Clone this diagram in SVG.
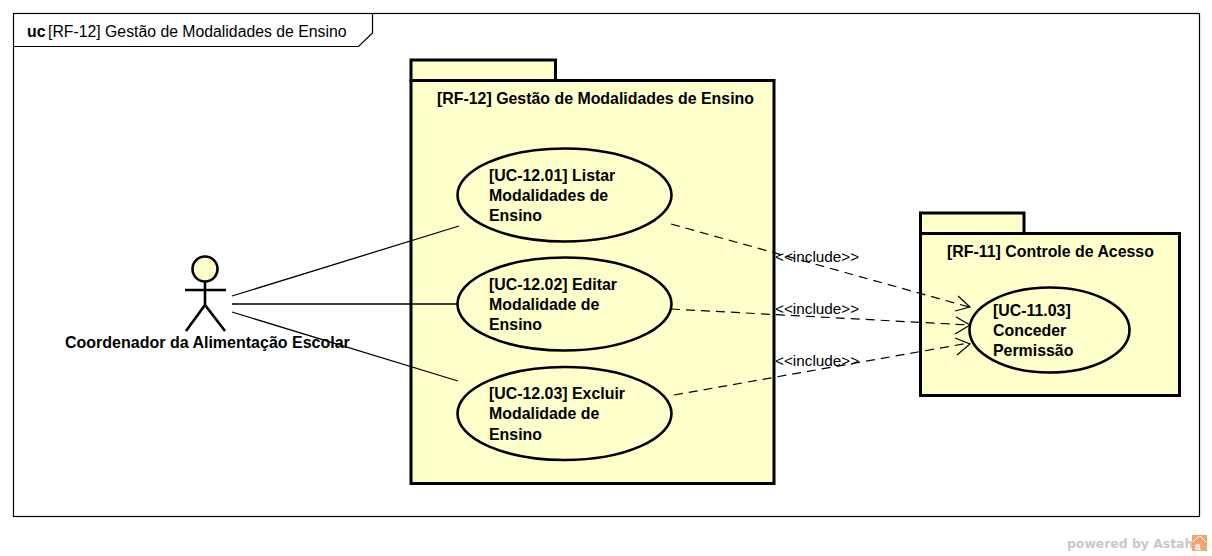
<svg xmlns="http://www.w3.org/2000/svg" width="1212" height="556" viewBox="0 0 1212 556">
<style>
text{font-family:"Liberation Sans",Arial,sans-serif;fill:#000}
.b{font-size:15.900px;font-weight:bold}
.t{font-size:15.800px}
.i{font-size:15.300px}
.pk{fill:#ffffcc;stroke:#000;stroke-width:3}
.uc{fill:#ffffcc;stroke:#000;stroke-width:2.6}
.ln{fill:none;stroke:#000;stroke-width:1.3}
.dash{fill:none;stroke:#000;stroke-width:1.2;stroke-dasharray:9 6}
.ah{fill:none;stroke:#000;stroke-width:1.2}
.act{fill:none;stroke:#000;stroke-width:2.6}
</style>
<rect width="1212" height="556" fill="#fff"/>
<g id="frame">
<rect x="13.500" y="13.500" width="1186" height="503" fill="#fff" stroke="#000" stroke-width="1.2"/>
<path d="M13.500 46.500H358.500L372.500 33V13.500" fill="none" stroke="#000" stroke-width="1.2"/>
<text x="27" y="37" class="b">uc</text>
<text x="48" y="37" class="t">[RF-12] Gestão de Modalidades de Ensino</text>
</g>
<g id="pkg-rf12">
<rect class="pk" x="411" y="60" width="144.500" height="20.500"/>
<rect class="pk" x="411" y="80.500" width="363" height="403"/>
<text x="437" y="104" class="b">[RF-12] Gestão de Modalidades de Ensino</text>
</g>
<g id="pkg-rf11">
<rect class="pk" x="920.500" y="213" width="103.500" height="20.500"/>
<rect class="pk" x="920.500" y="233.500" width="259" height="162"/>
<text x="947" y="257" class="b">[RF-11] Controle de Acesso</text>
</g>
<g id="uc-1201">
<ellipse class="uc" cx="564.500" cy="195" rx="107" ry="46.500"/>
<text x="489" y="181" class="b">[UC-12.01] Listar</text>
<text x="489" y="201" class="b">Modalidades de</text>
<text x="489" y="221" class="b">Ensino</text>
</g>
<g id="uc-1202">
<ellipse class="uc" cx="564.500" cy="304" rx="107" ry="46.500"/>
<text x="489" y="290" class="b">[UC-12.02] Editar</text>
<text x="489" y="310" class="b">Modalidade de</text>
<text x="489" y="330" class="b">Ensino</text>
</g>
<g id="uc-1203">
<ellipse class="uc" cx="564.500" cy="413.500" rx="107" ry="46.500"/>
<text x="489" y="399" class="b">[UC-12.03] Excluir</text>
<text x="489" y="419" class="b">Modalidade de</text>
<text x="489" y="440" class="b">Ensino</text>
</g>
<g id="uc-1103">
<ellipse class="uc" cx="1049.500" cy="330" rx="80" ry="42.500"/>
<text x="993" y="316" class="b">[UC-11.03]</text>
<text x="993" y="336" class="b">Conceder</text>
<text x="993" y="356" class="b">Permissão</text>
</g>
<g id="actor">
<circle cx="205" cy="269" r="12.500" fill="#ffffcc" stroke="#000" stroke-width="2.600"/>
<path class="act" d="M205 282V305M185 290H226M186 331L205 305L225 331"/>
<text x="65" y="348" style="font-size:16px;font-weight:bold">Coordenador da Alimentação Escolar</text>
</g>
<g id="connectors">
<path class="ln" d="M232 296L459 226M232 304H457M232 312L458 381"/>
<path class="dash" d="M671 224L969 307M671 309L969 325M674 395L969 343"/>
<path class="ah" d="M958 296L970 307L955 311M956 317L970 325L955 334M955 338L970 344L957 355"/>
<text x="775" y="262" class="i">&lt;&lt;include&gt;&gt;</text>
<text x="775" y="314" class="i">&lt;&lt;include&gt;&gt;</text>
<text x="775" y="366" class="i">&lt;&lt;include&gt;&gt;</text>
</g>
<g id="watermark">
<text x="1067" y="548" style="font-size:12.400px;font-weight:bold;font-family:'DejaVu Sans',sans-serif;fill:#c8c8c8">powered by Astah</text>
<rect x="1192" y="535" width="15" height="16" fill="#f4a373"/>
<path d="M1199 536L1193 542M1200 536L1206 542" fill="none" stroke="#fff" stroke-width="1"/>
<text x="1195" y="550" style="font-size:10px;font-weight:bold;fill:#fff">a</text>
</g>
</svg>
